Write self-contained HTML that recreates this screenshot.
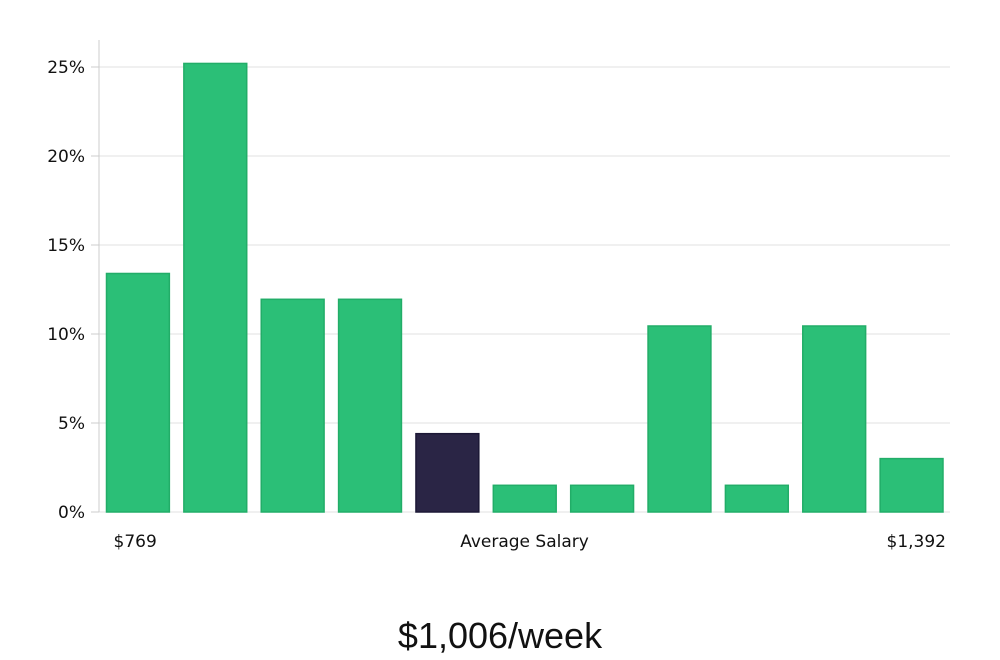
<!DOCTYPE html>
<html><head><meta charset="utf-8"><style>
html,body{margin:0;padding:0;background:#fff;width:1000px;height:660px;overflow:hidden;font-family:"DejaVu Sans","Liberation Sans",sans-serif;}
</style></head><body>
<svg id="chart" width="1000" height="660" xmlns="http://www.w3.org/2000/svg"></svg>
<script>
const categories=["b1","b2","b3","b4","b5","b6","b7","b8","b9","b10","b11"];
const values=[13.4,25.2,11.95,11.95,4.4,1.5,1.5,10.45,1.5,10.45,3.0];
const highlight=[false,false,false,false,true,false,false,false,false,false,false];
const yTicks=[0,5,10,15,20,25];
const yTickLabels=["0%","5%","10%","15%","20%","25%"];
const xLabels=["$769","Average Salary","$1,392"];
const title="$1,006/week";

const svg=document.getElementById('chart');
const NS="http://www.w3.org/2000/svg";
const x0=99,x1=950,y0=512,pxPer=(512-67)/25;
const y=v=>y0-v*pxPer;
const band=(x1-x0)/categories.length;
const bx=i=>x0+i*band+7.5;
const bw=band-14.5;
function mk(t,a){const e=document.createElementNS(NS,t);for(const k in a)e.setAttribute(k,a[k]);svg.appendChild(e);return e;}
yTicks.forEach((t,i)=>{
  const g=mk('line',{x1:x0,x2:x1,y1:y(t),y2:y(t),stroke:'#e2e2e2','stroke-width':1});
  
  
  const tk=mk('line',{x1:x0-8,x2:x0,y1:y(t),y2:y(t),stroke:'#ccc','stroke-width':1});
  
  
  const l=mk('text',{x:85,y:y(t)+6,'text-anchor':'end','font-size':17,fill:'#111'});
  l.textContent=yTickLabels[i];
  
  
});
const ax=mk('line',{x1:x0,x2:x0,y1:40,y2:y0,stroke:'#ccc','stroke-width':1});


values.forEach((v,i)=>{
  const r=mk('rect',{x:bx(i),y:y(v),width:bw,height:y0-y(v),fill:highlight[i]?'#2a2545':'#2bbf77',stroke:highlight[i]?'#1c1836':'#22ad68','stroke-width':1.5});
  
  
});
const xl=[[bx(0)+7,'start'],[(x0+x1)/2,'middle'],[bx(10)+bw+3,'end']];
xLabels.forEach((t,i)=>{
  const l=mk('text',{x:xl[i][0],y:547,'text-anchor':xl[i][1],'font-size':17,fill:'#111'});
  l.textContent=t;
  
  
});
const tt=mk('text',{x:500,y:648,'text-anchor':'middle','font-size':36,fill:'#111','font-family':'Liberation Sans, sans-serif'});
tt.textContent=title;


</script>
</body></html>
